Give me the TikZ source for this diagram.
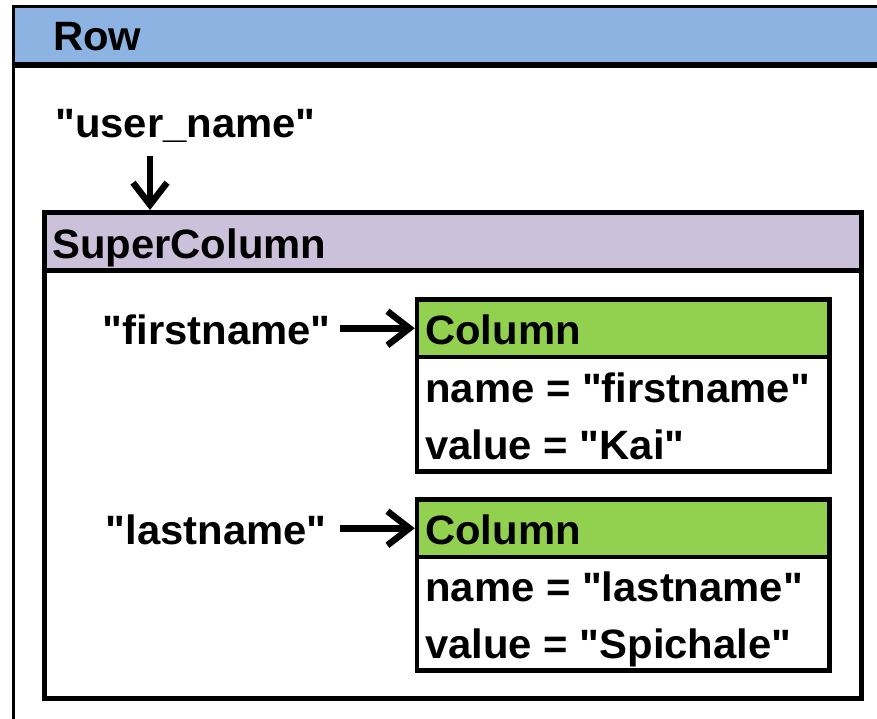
\documentclass[tikz,border=0pt]{standalone}
\usepackage{fontspec}
\setmainfont{Liberation Sans}[Ligatures=TeXOff,FakeStretch=1.02]
\usetikzlibrary{arrows.meta}
\definecolor{rowblue}{HTML}{8DB3E2}
\definecolor{scpurple}{HTML}{CCC1DA}
\definecolor{colgreen}{HTML}{92D050}
\begin{document}
\begin{tikzpicture}[x=1pt,y=-1pt,
  txt/.style={inner sep=0pt, anchor=base west, font=\bfseries\fontsize{41}{48}\selectfont},
  boxpart/.style={draw, rectangle, inner sep=0pt, anchor=center},
  arr/.style={line width=6.5pt, -{Straight Barb[length=22pt,width=34pt]}}
]
\useasboundingbox (0,0) rectangle (877,718);
\clip (0,0) rectangle (877,718);
% Row
\node[boxpart, line width=3pt, fill=rowblue, minimum width=886.5pt, minimum height=57pt] (rowhead) at (456.75,35) {};
\node[boxpart, line width=3pt, minimum width=886.5pt, minimum height=696.5pt] (rowbody) at (456.75,411.75) {};
\draw[line width=5pt] (rowhead.south west) -- (rowhead.south east);
\node[txt] (rowlbl) at (53,50) {Row};
\node[txt] (un) at (55,137) {"user\_name"};
% SuperColumn
\node[boxpart, line width=5pt, fill=scpurple, minimum width=817pt, minimum height=57.5pt] (schead) at (453,241.25) {};
\node[boxpart, line width=5pt, minimum width=817pt, minimum height=428.5pt] (scbody) at (453,484.25) {};
\node[txt] (sclbl) at (52,258) {SuperColumn};
% Column 1
\node[boxpart, line width=4.5pt, fill=colgreen, minimum width=412.5pt, minimum height=57.5pt] (c1h) at (623.25,328.25) {};
\node[boxpart, line width=4.5pt, minimum width=412.5pt, minimum height=114.5pt] (c1b) at (623.25,414.25) {};
\node[txt] (c1lbl) at (425,344) {Column};
\node[txt] (c1n) at (425,402) {name = "firstname"};
\node[txt] (c1v) at (425,459) {value = "Kai"};
% Column 2
\node[boxpart, line width=4.5pt, fill=colgreen, minimum width=412.5pt, minimum height=57.5pt] (c2h) at (623.25,528.25) {};
\node[boxpart, line width=4.5pt, minimum width=412.5pt, minimum height=113.5pt] (c2b) at (623.25,613.75) {};
\node[txt] (c2lbl) at (425,544) {Column};
\node[txt] (c2n) at (425,601) {name = "lastname"};
\node[txt] (c2v) at (425,658) {value = "Spichale"};
% keys
\node[txt, anchor=base east] (fn) at (331,344) {"firstname"};
\node[txt, anchor=base east] (ln) at (327,544) {"lastname"};
% arrows
\coordinate (dtop) at (150,156);
\draw[arr] (dtop) -- (dtop |- schead.north);
\draw[arr] ([xshift=9pt]fn.east |- c1h.west) -- (c1h.west);
\draw[arr] ([xshift=13pt]ln.east |- c2h.west) -- (c2h.west);
\end{tikzpicture}
\end{document}
